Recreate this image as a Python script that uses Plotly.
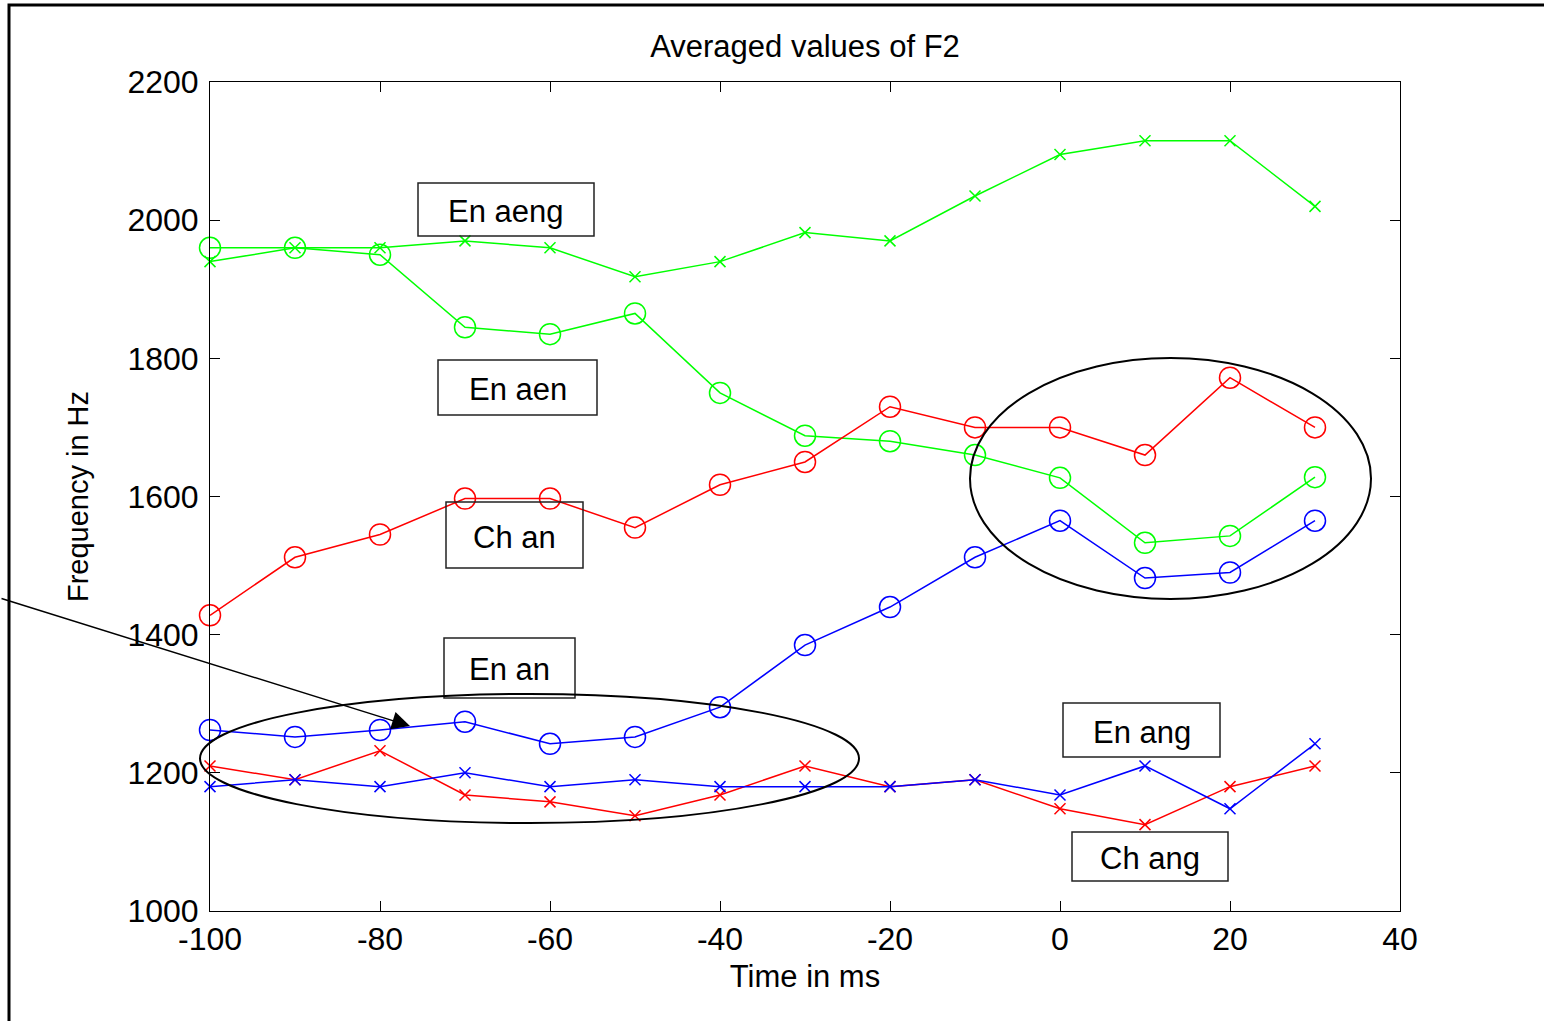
import plotly.graph_objects as go

# ---- data ----
time_ms = [-100, -90, -80, -70, -60, -50, -40, -30, -20, -10, 0, 10, 20, 30]

en_aeng = [1940, 1960, 1960, 1970, 1960, 1918, 1940, 1982, 1970, 2035, 2095, 2115, 2115, 2020]
en_aen  = [1960, 1960, 1950, 1845, 1835, 1865, 1750, 1688, 1680, 1660, 1627, 1533, 1543, 1628]
ch_an   = [1428, 1512, 1545, 1597, 1597, 1555, 1617, 1650, 1730, 1700, 1700, 1660, 1772, 1700]
en_an   = [1262, 1252, 1262, 1274, 1242, 1252, 1295, 1385, 1440, 1512, 1565, 1482, 1490, 1565]
ch_ang  = [1210, 1190, 1232, 1168, 1158, 1138, 1168, 1210, 1180, 1190, 1148, 1125, 1180, 1210]
en_ang  = [1180, 1190, 1180, 1200, 1180, 1190, 1180, 1180, 1180, 1190, 1168, 1210, 1148, 1242]

x_ticks = [-100, -80, -60, -40, -20, 0, 20, 40]
y_ticks = [1000, 1200, 1400, 1600, 1800, 2000, 2200]

label_texts = ["En aeng", "En aen", "Ch an", "En an", "En ang", "Ch ang"]

GREEN, RED, BLUE = "#00FF00", "#FF0000", "#0000FF"
FONT = "Liberation Sans, Arial, sans-serif"

# plot-area geometry (pixels)
W, H = 1544, 1021
L, R, T, B = 210, 1400, 82, 911


def px(xp, yp):
    return (xp - L) / (R - L), (B - yp) / (B - T)


fig = go.Figure()


def add(y, color, sym):
    if sym == "x":
        marker = dict(symbol="x-thin-open", size=11, line=dict(width=1.5, color=color), color=color)
    else:
        marker = dict(symbol="circle-open", size=21, line=dict(width=1.5, color=color), color=color)
    fig.add_trace(go.Scatter(x=time_ms, y=y, mode="lines+markers",
                             line=dict(color=color, width=1.5), marker=marker,
                             showlegend=False, cliponaxis=False))


add(en_aeng, GREEN, "x")
add(en_aen, GREEN, "o")
add(ch_an, RED, "o")
add(en_an, BLUE, "o")
add(ch_ang, RED, "x")
add(en_ang, BLUE, "x")

shapes = []
annotations = []

# label boxes (pixel boxes) and texts
boxes = [(418, 183, 594, 236), (438, 360, 597, 415), (446, 502, 583, 568),
         (444, 638, 575, 698), (1063, 703, 1220, 757), (1072, 832, 1228, 881)]
for (x0, y0, x1, y1), txt in zip(boxes, label_texts):
    a0, b1 = px(x0, y0)
    a1, b0 = px(x1, y1)
    shapes.append(dict(type="rect", xref="paper", yref="paper", x0=a0, x1=a1, y0=b0, y1=b1,
                       line=dict(color="#222222", width=1.5), layer="above"))
    cx, cy = px((x0 + x1) / 2, (y0 + y1) / 2 + 2)
    annotations.append(dict(text=txt, xref="paper", yref="paper", x=cx, y=cy,
                            showarrow=False, font=dict(family=FONT, size=31, color="black"),
                            xanchor="center", yanchor="middle"))

# ellipses
for (x0, y0, x1, y1) in [(970, 358, 1371, 599), (200, 694, 859, 823)]:
    a0, b1 = px(x0, y0)
    a1, b0 = px(x1, y1)
    shapes.append(dict(type="circle", xref="paper", yref="paper", x0=a0, x1=a1, y0=b0, y1=b1,
                       line=dict(color="black", width=2), layer="above"))

# outer frame
fx0, fy1 = px(9, 5)
fx1, fy0 = px(1600, 1100)
shapes.append(dict(type="rect", xref="paper", yref="paper", x0=fx0, x1=fx1, y0=fy0, y1=fy1,
                   line=dict(color="black", width=3), layer="above"))

# arrow
hx, hy = px(410, 726)
annotations.append(dict(text="", xref="paper", yref="paper", x=hx, y=hy,
                        ax=0 - 410, ay=598 - 726, axref="pixel", ayref="pixel",
                        showarrow=True, arrowhead=2, arrowsize=2.4, arrowwidth=1.5,
                        arrowcolor="black"))

fig.update_layout(
    width=W, height=H,
    margin=dict(l=L, r=W - R, t=T, b=H - B, pad=0),
    paper_bgcolor="white", plot_bgcolor="white",
    font=dict(family=FONT, size=31, color="black"),
    title=dict(text="Averaged values of F2", x=(L + R) / 2 / W, xanchor="center",
               y=1 - 46 / H, yanchor="middle", font=dict(family=FONT, size=31)),
    shapes=shapes, annotations=annotations,
    xaxis=dict(range=[-100, 40], tickvals=x_ticks, ticktext=[str(v) for v in x_ticks],
               ticks="inside", ticklen=10, tickwidth=1, tickcolor="black",
               showline=True, linecolor="black", linewidth=1, mirror="ticks",
               showgrid=False, zeroline=False,
               title=dict(text="Time in ms", standoff=8, font=dict(size=31)),
               tickfont=dict(size=32)),
    yaxis=dict(range=[1000, 2200], tickvals=y_ticks, ticktext=[str(v) for v in y_ticks],
               ticks="inside", ticklen=10, tickwidth=1, tickcolor="black",
               showline=True, linecolor="black", linewidth=1, mirror="ticks",
               showgrid=False, zeroline=False, ticklabelstandoff=4,
               title=dict(text="Frequency in Hz", standoff=30, font=dict(size=29)),
               tickfont=dict(size=32)),
)

fig.write_html("out.html", config={"displayModeBar": False},
               post_script="document.body.style.margin='0';document.body.style.overflow='hidden';")
